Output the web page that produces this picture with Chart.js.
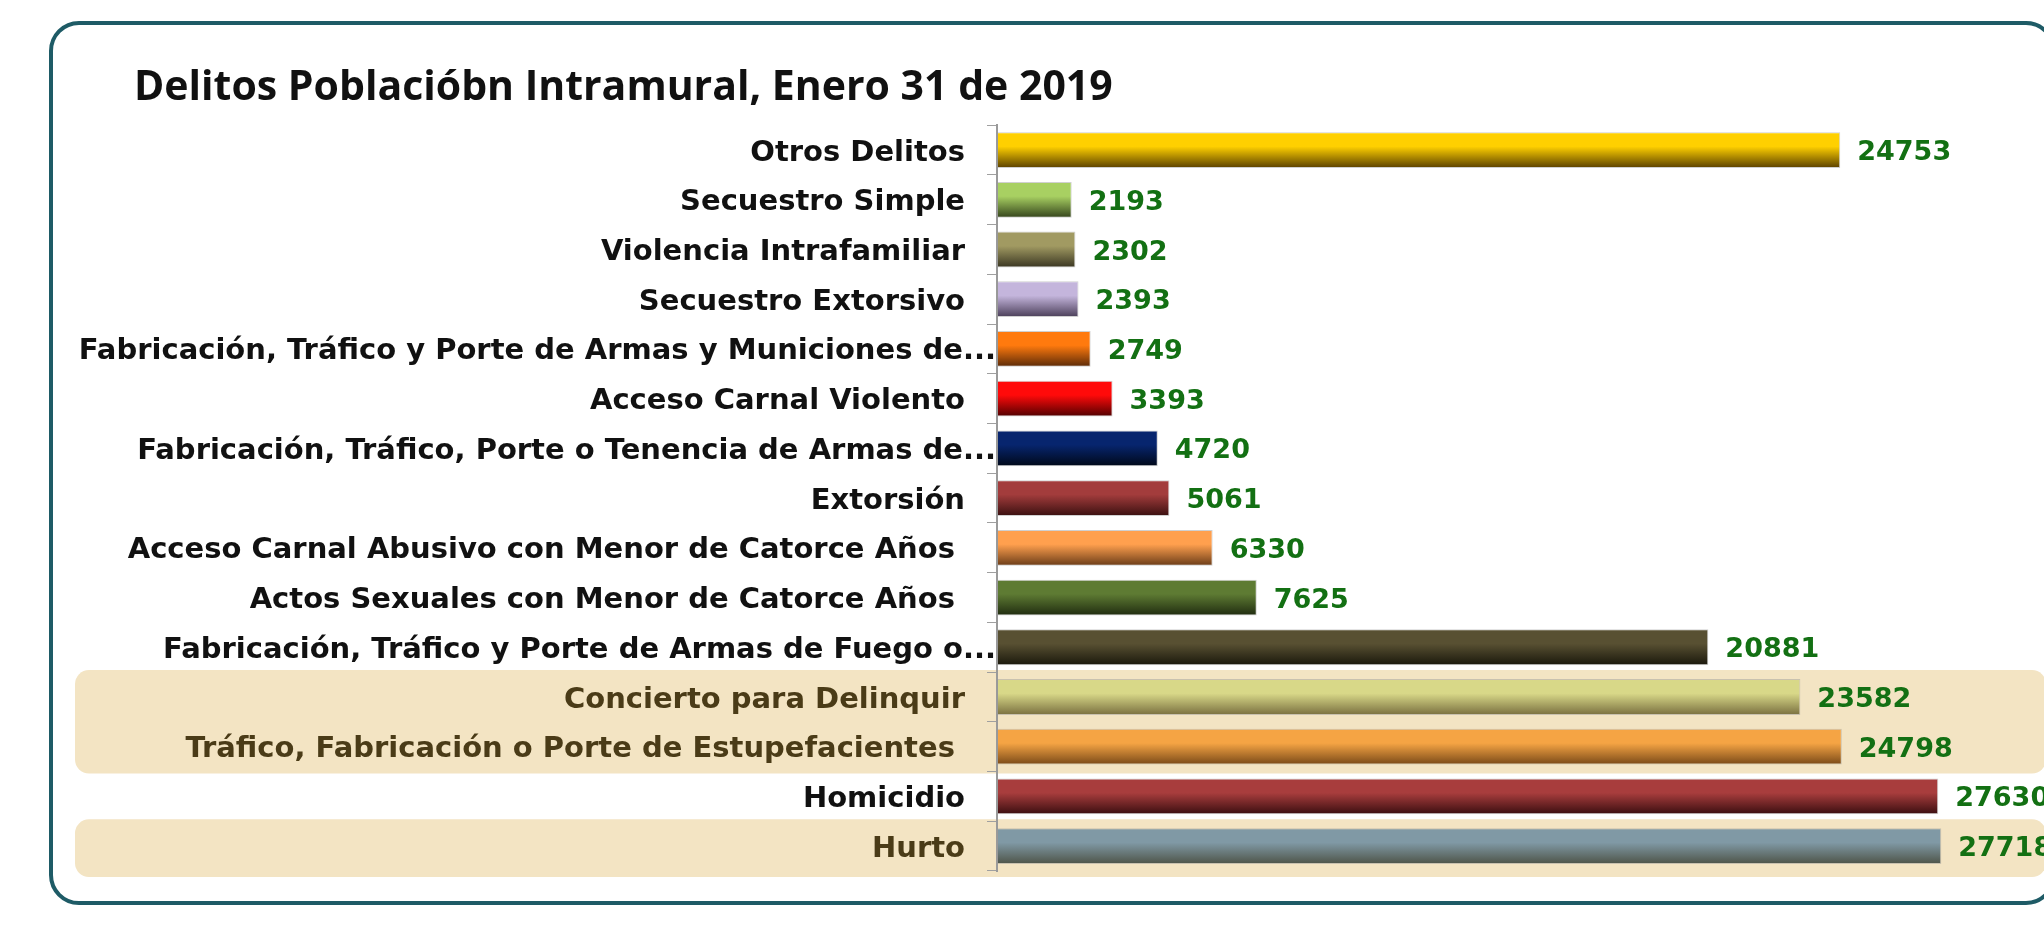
<!DOCTYPE html>
<html>
<head>
<meta charset="utf-8">
<title>Delitos Población Intramural</title>
<script src="https://cdn.jsdelivr.net/npm/chart.js@4/dist/chart.umd.min.js"></script>
<style>
  html, body { margin: 0; background: #fff; }
  #wrap { width: 2044px; height: 945px; }
</style>
</head>
<body>
<div id="wrap"><canvas id="chart"></canvas></div>
<script>
// Datos
const categories = [
    'Otros Delitos',
    'Secuestro Simple',
    'Violencia Intrafamiliar',
    'Secuestro Extorsivo',
    'Fabricación, Tráfico y Porte de Armas y Municiones de...',
    'Acceso Carnal Violento',
    'Fabricación, Tráfico, Porte o Tenencia de Armas de...',
    'Extorsión',
    'Acceso Carnal Abusivo con Menor de Catorce Años ',
    'Actos Sexuales con Menor de Catorce Años ',
    'Fabricación, Tráfico y Porte de Armas de Fuego o...',
    'Concierto para Delinquir',
    'Tráfico, Fabricación o Porte de Estupefacientes ',
    'Homicidio',
    'Hurto'
];
const values = [24753, 2193, 2302, 2393, 2749, 3393, 4720, 5061, 6330, 7625, 20881, 23582, 24798, 27630, 27718];

// filas resaltadas (índice inicial, índice final)
const highlightRows = [[11, 12], [14, 14]];

// colores de cada barra: parte alta y parte baja del degradado
const topColors = ['#ffd000', '#a8d062', '#a19a62', '#c4b5dc', '#ff7a0e', '#ff0a0a', '#07256e', '#a33c3c',
                   '#ffa04e', '#5e7b33', '#585032', '#d8d888', '#f5a444', '#a83d3d', '#8099a5'];
const bottomColors = ['#5a4000', '#34441c', '#3a3622', '#4a3e58', '#5a2a08', '#500000', '#000818', '#3a1010',
                      '#6a3c18', '#202c10', '#1a180c', '#7a7040', '#7a4a18', '#3a0e10', '#4e5448'];

const AXIS_X = 997;
const LEFT = 134;

function barFill(c) {
    const chart = c.chart, area = chart.chartArea, i = c.dataIndex;
    if (!area || i === undefined) return topColors[0];
    const y = chart.scales.y.getPixelForValue(i);
    const h = (area.bottom - area.top) / categories.length * 0.72;
    const g = chart.ctx.createLinearGradient(0, y - h / 2, 0, y + h / 2);
    g.addColorStop(0, topColors[i]);
    g.addColorStop(0.4, topColors[i]);
    g.addColorStop(1, bottomColors[i]);
    return g;
}

// marco redondeado y bandas beige
const fondo = {
    id: 'fondo',
    beforeDraw(chart) {
        const ctx = chart.ctx, y = chart.scales.y;
        const row = (chart.chartArea.bottom - chart.chartArea.top) / categories.length;
        ctx.save();
        ctx.fillStyle = '#f3e4c3';
        highlightRows.forEach(([a, b]) => {
            const top = y.getPixelForValue(a) - row / 2 - 2;
            const bottom = y.getPixelForValue(b) + row / 2 + (b === categories.length - 1 ? 6 : 2);
            ctx.beginPath();
            ctx.roundRect(75, top, 2046 - 75, bottom - top, 14);
            ctx.fill();
        });
        ctx.strokeStyle = '#1e5b66';
        ctx.lineWidth = 4;
        ctx.beginPath();
        ctx.roundRect(51, 23, 2054 - 51, 903 - 23, 28);
        ctx.stroke();
        ctx.restore();
    }
};

// etiquetas de categoría y valores
const etiquetas = {
    id: 'etiquetas',
    afterDatasetsDraw(chart) {
        const ctx = chart.ctx, y = chart.scales.y;
        ctx.save();
        ctx.textBaseline = 'middle';
        ctx.textAlign = 'right';
        ctx.font = 'bold 29px "DejaVu Sans"';
        categories.forEach((label, i) => {
            const hl = highlightRows.some(([a, b]) => i >= a && i <= b);
            ctx.fillStyle = hl ? '#4a3b17' : '#111';
            const x = label.endsWith('...') ? AXIS_X - 1 : AXIS_X - 32;
            ctx.fillText(label, x, y.getPixelForValue(i) + 3);
        });
        ctx.textAlign = 'left';
        ctx.fillStyle = '#137013';
        ctx.font = 'bold 27px "DejaVu Sans"';
        chart.getDatasetMeta(0).data.forEach((bar, i) => {
            ctx.fillText(String(values[i]), bar.x + 17, bar.y + 3);
        });
        ctx.restore();
    }
};

new Chart(document.getElementById('chart'), {
    type: 'bar',
    data: {
        labels: categories,
        datasets: [{
            data: values,
            backgroundColor: barFill,
            borderColor: 'rgba(150,150,150,0.45)',
            borderWidth: 1,
            borderSkipped: false,
            barPercentage: 0.72,
            categoryPercentage: 1
        }]
    },
    options: {
        indexAxis: 'y',
        responsive: true,
        maintainAspectRatio: false,
        animation: false,
        layout: { padding: { left: LEFT, right: 25, top: 0, bottom: 74 } },
        plugins: {
            legend: { display: false },
            tooltip: { enabled: false },
            title: {
                display: true,
                text: 'Delitos Poblacióbn Intramural, Enero 31 de 2019',
                align: 'start',
                color: '#111',
                font: { family: 'Open Sans', size: 41, weight: 'bold', lineHeight: 1.2 },
                padding: { top: 64, bottom: 12 }
            }
        },
        scales: {
            x: { display: false, min: 0, max: 30000 },
            y: {
                afterFit(scale) { scale.width = AXIS_X - LEFT; },
                ticks: { display: false },
                grid: { drawOnChartArea: false, drawTicks: true, tickLength: 10, color: '#a0a0a0' },
                border: { display: true, color: '#9a9a9a', width: 2 }
            }
        }
    },
    plugins: [fondo, etiquetas]
});
</script>
</body>
</html>
